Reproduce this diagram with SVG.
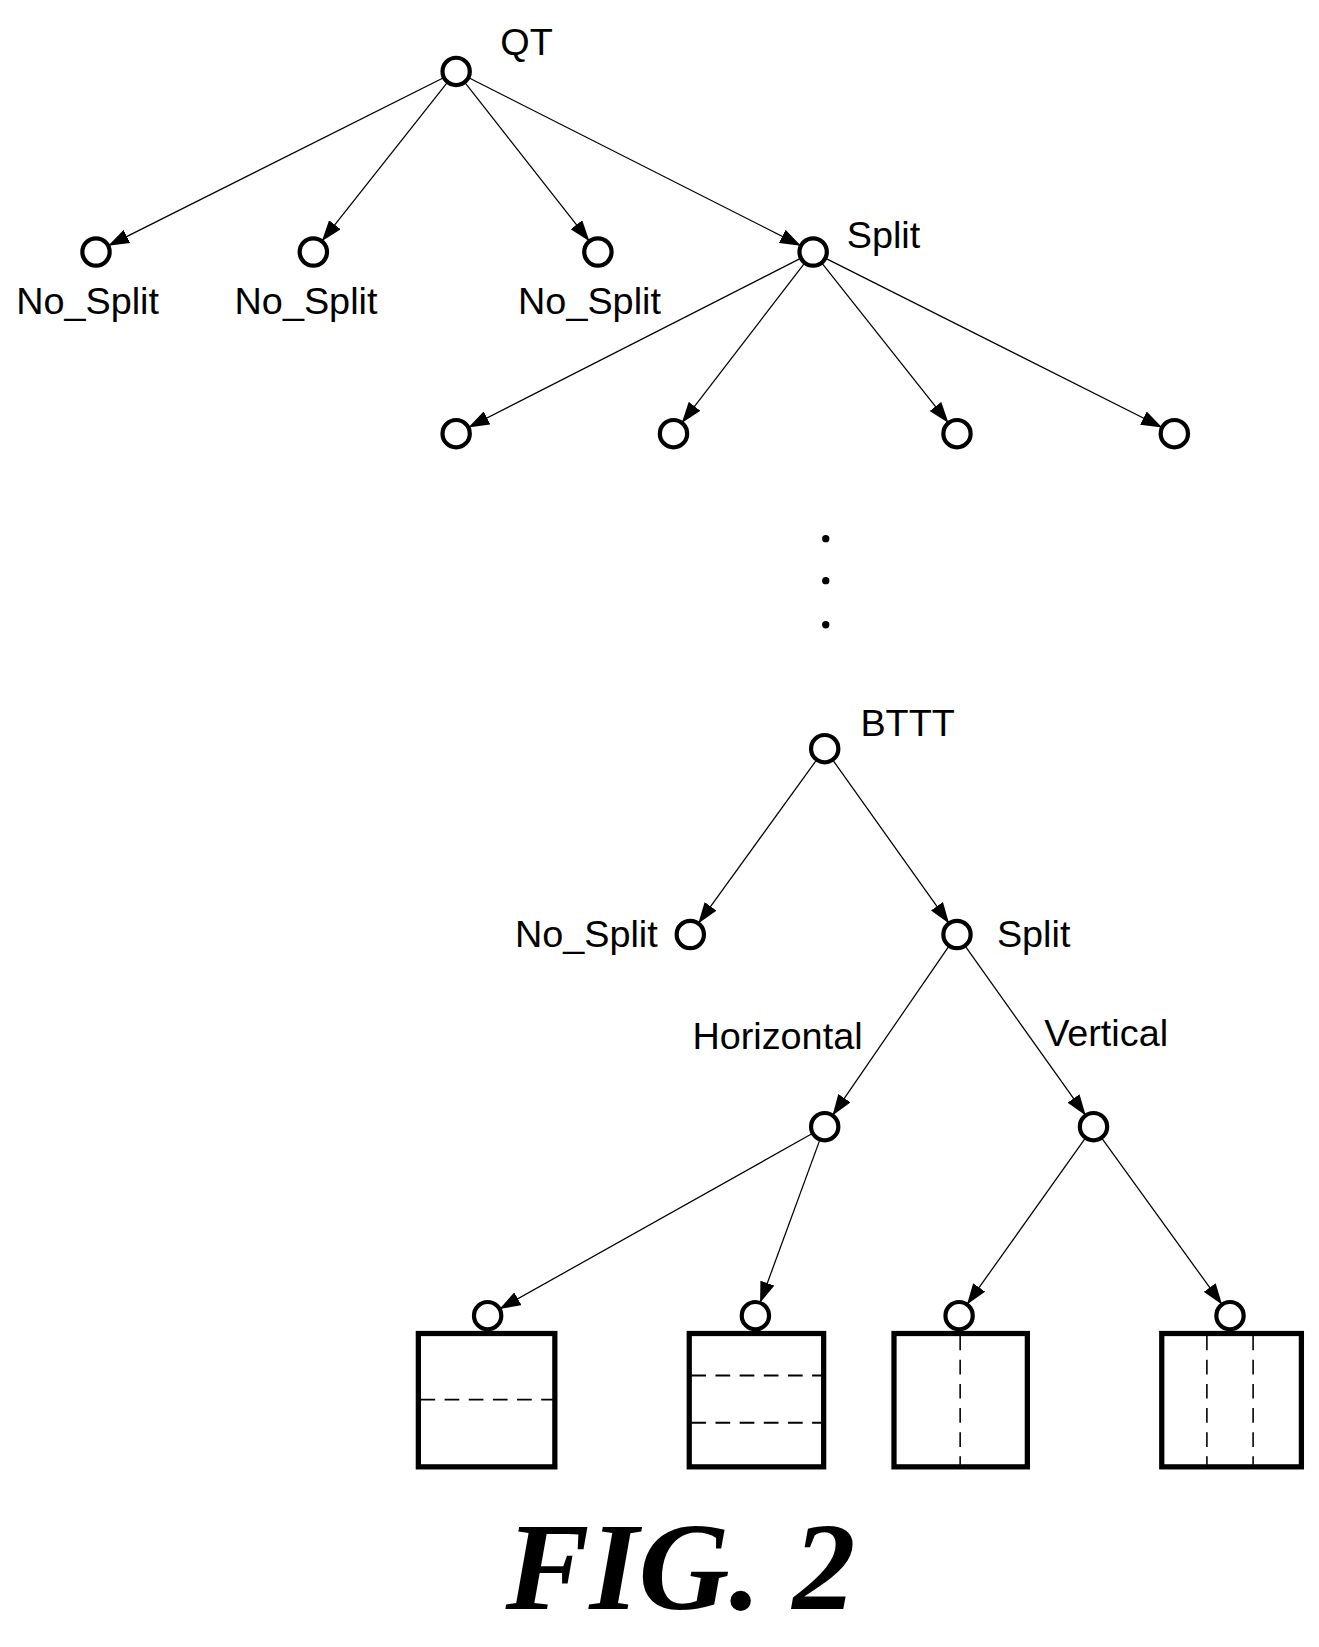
<svg xmlns="http://www.w3.org/2000/svg" width="1319" height="1647" viewBox="0 0 1319 1647">
<style>
.n{fill:#fff;stroke:#000;stroke-width:4}
.e{stroke:#000;stroke-width:1.2;fill:none;marker-end:url(#ah2)}
.t{font-family:"Liberation Sans",Arial,sans-serif;font-size:36px;fill:#000}
.b{fill:#fff;stroke:#000;stroke-width:5}
.d{stroke:#000;stroke-width:1.5;stroke-dasharray:14,9}
</style>
<defs>
<marker id="ah2" markerWidth="20" markerHeight="14" refX="19" refY="7" orient="auto" markerUnits="userSpaceOnUse"><path d="M0,0L20,7L0,14z" fill="#000"/></marker></defs>
<rect width="1319" height="1647" fill="#fff"/>
<g transform="translate(1.5,0) scale(1.05)">
<g id="connectors">
<line class="e" x1="420.5" y1="74.3" x2="102.5" y2="233.7"/>
<line class="e" x1="424.3" y1="79" x2="305.7" y2="229"/>
<line class="e" x1="441.6" y1="79" x2="559.3" y2="229"/>
<line class="e" x1="445.5" y1="74.3" x2="760.5" y2="233.7"/>
<line class="e" x1="760.5" y1="246.3" x2="445.5" y2="406.7"/>
<line class="e" x1="764.5" y1="251" x2="648.5" y2="402"/>
<line class="e" x1="781.7" y1="251" x2="901.3" y2="402"/>
<line class="e" x1="785.5" y1="246.3" x2="1104.5" y2="406.7"/>
<line class="e" x1="775.8" y1="724.4" x2="664.2" y2="878.6"/>
<line class="e" x1="792.1" y1="724.4" x2="901.9" y2="878.6"/>
<line class="e" x1="902" y1="901.5" x2="792" y2="1061.5"/>
<line class="e" x1="918" y1="901.4" x2="1032" y2="1061.6"/>
<line class="e" x1="771.8" y1="1079.8" x2="475.2" y2="1246.2"/>
<line class="e" x1="779.2" y1="1086.1" x2="722.8" y2="1239.9"/>
<line class="e" x1="1031.9" y1="1084.4" x2="920.1" y2="1241.6"/>
<line class="e" x1="1048.2" y1="1084.4" x2="1161.8" y2="1241.6"/>
</g>
<g id="qt"><circle class="n" cx="433" cy="68" r="13"/><text class="t" x="475" y="52">QT</text></g>
<g id="l1a"><circle class="n" cx="90" cy="240" r="13"/><text class="t" x="82" y="299" text-anchor="middle">No_Split</text></g>
<g id="l1b"><circle class="n" cx="297" cy="240" r="13"/><text class="t" x="290" y="299" text-anchor="middle">No_Split</text></g>
<g id="l1c"><circle class="n" cx="568" cy="240" r="13"/><text class="t" x="560" y="299" text-anchor="middle">No_Split</text></g>
<g id="l1d"><circle class="n" cx="773" cy="240" r="13"/><text class="t" x="805" y="236">Split</text></g>
<g id="l2a"><circle class="n" cx="433" cy="413" r="13"/></g>
<g id="l2b"><circle class="n" cx="640" cy="413" r="13"/></g>
<g id="l2c"><circle class="n" cx="910" cy="413" r="13"/></g>
<g id="l2d"><circle class="n" cx="1117" cy="413" r="13"/></g>
<g id="dots"><circle cx="785" cy="513" r="3.5"/><circle cx="785" cy="553" r="3.5"/><circle cx="785" cy="595" r="3.5"/></g>
<g id="bttt"><circle class="n" cx="784" cy="713" r="13"/><text class="t" x="818" y="701">BTTT</text></g>
<g id="nosplit"><circle class="n" cx="656" cy="890" r="13"/><text class="t" x="625" y="902" text-anchor="end">No_Split</text></g>
<g id="split"><circle class="n" cx="910" cy="890" r="13"/><text class="t" x="948" y="902">Split</text></g>
<g id="horiz"><circle class="n" cx="784" cy="1073" r="13"/><text class="t" x="658" y="999">Horizontal</text></g>
<g id="vert"><circle class="n" cx="1040" cy="1073" r="13"/><text class="t" x="993" y="996">Vertical</text></g>
<g id="leaf1"><circle class="n" cx="463" cy="1253" r="13"/><rect class="b" x="397" y="1270" width="130" height="127"/><line class="d" x1="399" y1="1333" x2="525" y2="1333"/></g>
<g id="leaf2"><circle class="n" cx="718" cy="1253" r="13"/><rect class="b" x="655" y="1270" width="128" height="127"/><line class="d" x1="657" y1="1310" x2="781" y2="1310" style="stroke-width:2"/><line class="d" x1="657" y1="1355" x2="781" y2="1355" style="stroke-width:2"/></g>
<g id="leaf3"><circle class="n" cx="912" cy="1253" r="13"/><rect class="b" x="850" y="1270" width="127" height="127"/><line class="d" x1="913" y1="1272" x2="913" y2="1395"/></g>
<g id="leaf4"><circle class="n" cx="1170" cy="1253" r="13"/><rect class="b" x="1105" y="1270" width="133" height="127"/><line class="d" x1="1148" y1="1272" x2="1148" y2="1395"/><line class="d" x1="1192" y1="1272" x2="1192" y2="1395"/></g>
<text x="480" y="1532" style="font-family:'Liberation Serif','Times New Roman',serif;font-weight:bold;font-style:italic;font-size:120px">FIG. 2</text>
</g>
</svg>
